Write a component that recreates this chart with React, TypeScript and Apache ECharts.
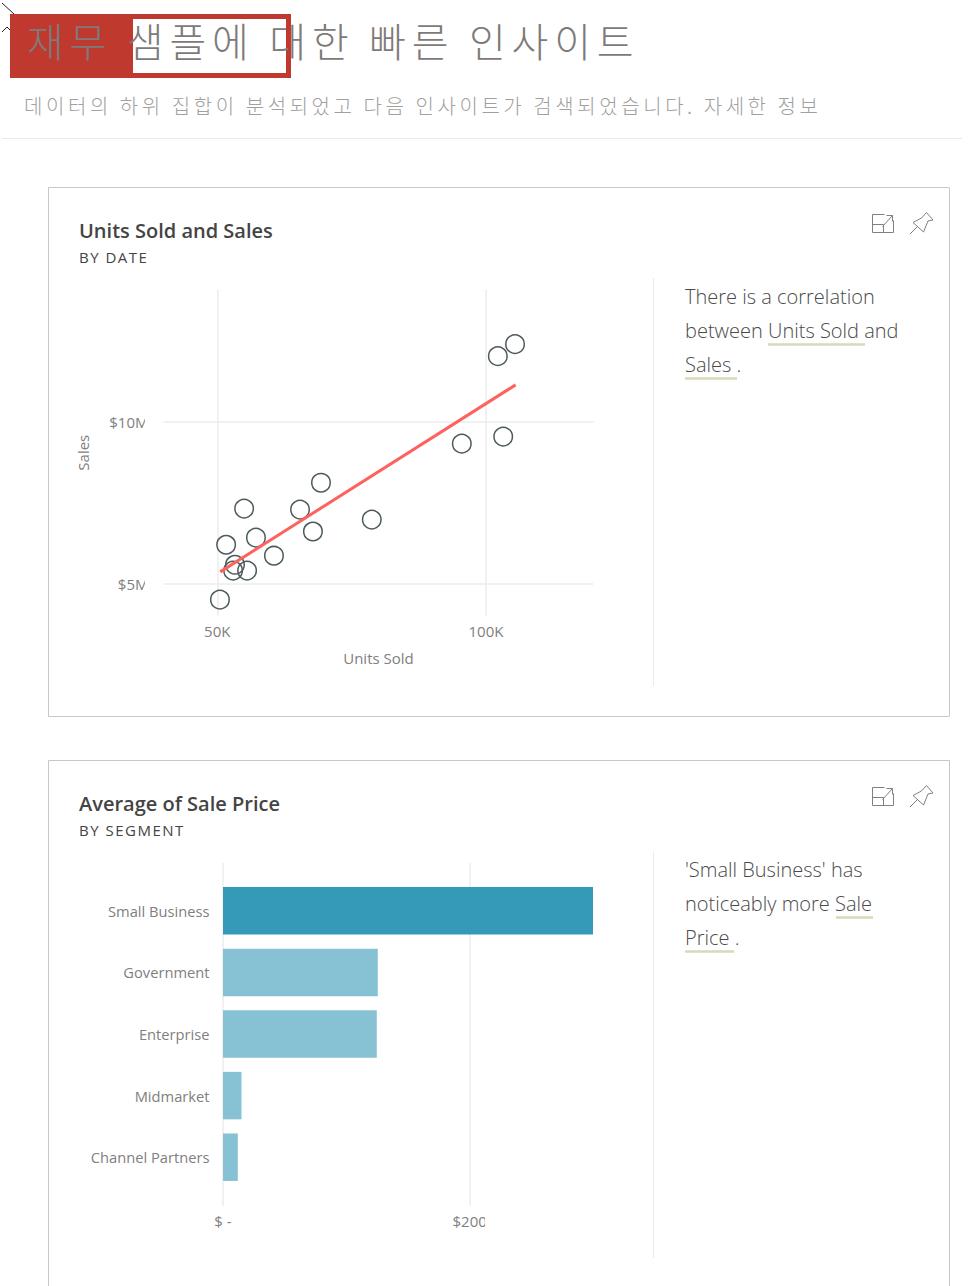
import React, { useEffect, useRef } from "react";
import * as echarts from "echarts";

const unitsSold = [105.4, 102.2, 103.2, 95.5, 78.75, 69.3, 65.4, 67.8, 60.55, 57.2, 55.0, 51.65, 53.3, 52.95, 55.55, 50.5];
const salesM = [12.41, 12.04, 9.55, 9.33, 6.98, 8.12, 7.29, 6.61, 5.86, 6.42, 7.32, 6.2, 5.58, 5.4, 5.4, 4.5];
const trendX = [50.55, 105.5];
const trendY = [5.36, 11.15];
const segments = ["Small Business", "Government", "Enterprise", "Midmarket", "Channel Partners"];
const avgPrice = [300, 125.5, 124.7, 15, 12];
const scatterXTicks = [50, 100];
const scatterYTicks = [5, 10];
const barXTicks = [0, 200];

const FONT = "'Open Sans', 'Noto Sans', sans-serif";
const CJK = "'Noto Sans CJK KR', sans-serif";

const FOCUS_D = "M12 0H0V18H21V6M0 10H11V18M10 12L20 1M14 1H20V7";
const PIN_D = "M1 22L9 14M17.5 0.5L24 8L19 9L14.5 20L4 10.5L12.5 6Z";
echarts.graphic.registerShape("focusIcon", echarts.graphic.extendPath(FOCUS_D, {}) as any);
echarts.graphic.registerShape("pinIcon", echarts.graphic.extendPath(PIN_D, {}) as any);

const txt = (text: string, x: number, y: number, size: number, fill: string, extra: any = {}) => ({
  type: "text",
  x,
  y,
  z: 120,
  style: { text, fontSize: size, fill, fontFamily: FONT, textVerticalAlign: "middle", verticalAlign: "middle", ...extra },
});
const line = (x1: number, y1: number, x2: number, y2: number, stroke: string, lineWidth = 1) => ({
  type: "line",
  z: 50,
  shape: { x1, y1, x2, y2 },
  style: { stroke, lineWidth },
});
const rect = (x: number, y: number, width: number, height: number, fill: string, z = 100) => ({
  type: "rect",
  z,
  shape: { x, y, width, height },
  style: { fill },
});
const outline = (x: number, y: number, width: number, height: number) => ({
  type: "rect",
  z: 1,
  shape: { x, y, width, height },
  style: { fill: "none", stroke: "#c8c8c8", lineWidth: 1 },
});
const icons = (dy: number) => [
  { type: "focusIcon", x: 872.5, y: 214.5 + dy, z: 60, style: { fill: "none", stroke: "#808080", lineWidth: 1 } },
  { type: "pinIcon", x: 909, y: 212 + dy, z: 60, style: { fill: "none", stroke: "#808080", lineWidth: 1 } },
];

const TITLE_STYLE = { fontWeight: 300, fontFamily: CJK };
const axisLabelGrey = "#808080";
const gridGrey = "#ececec";
const underline = "#d9d9b8";
const SPACED: Record<string, string> = {
  "재무 샘플에 대한 빠른 인사이트": "5.8px",
  "데이터의 하위 집합이 분석되었고 다음 인사이트가 검색되었습니다. 자세한 정보": "3.57px",
  "BY DATE": "1.5px",
  "BY SEGMENT": "1.5px",
};

export default function App() {
  const ref = useRef<HTMLDivElement>(null);
  useEffect(() => {
    const chart = echarts.init(ref.current!, undefined, { renderer: "svg" });
    const applySpacing = () => {
      ref.current?.querySelectorAll("text").forEach((t) => {
        const s = SPACED[t.textContent || ""];
        if (s) (t as any).style.letterSpacing = s;
      });
    };
    chart.on("finished", applySpacing);
    chart.setOption({
      animation: false,
      backgroundColor: "#ffffff",
      textStyle: { fontFamily: FONT },
      grid: [
        { left: 163.5, top: 289.6, width: 430, height: 326.2 },
        { left: 223, top: 880, width: 370, height: 308 },
        { left: 223, top: 863, width: 370, height: 343 },
      ],
      xAxis: [
        {
          type: "value", gridIndex: 0, min: 40, max: 120,
          name: "Units Sold", nameLocation: "middle", nameGap: 35,
          nameTextStyle: { color: axisLabelGrey, fontSize: 15 },
          axisLine: { show: false },
          axisTick: { show: false, customValues: scatterXTicks },
          axisLabel: { customValues: scatterXTicks, color: axisLabelGrey, fontSize: 15, margin: 8, formatter: (v: number) => `${v}K` },
          splitLine: { show: true, lineStyle: { color: gridGrey, width: 1.5 } },
        },
        {
          type: "value", gridIndex: 1, min: 0, max: 300,
          axisLine: { show: false }, axisTick: { show: false }, axisLabel: { show: false }, splitLine: { show: false },
        },
        {
          type: "value", gridIndex: 2, min: 0, max: 300,
          axisLine: { show: false },
          axisTick: { show: false, customValues: barXTicks },
          axisLabel: { customValues: barXTicks, color: axisLabelGrey, fontSize: 15, margin: 7, formatter: (v: number) => (v === 0 ? "$ -" : `$${v}`) },
          splitLine: { show: true, lineStyle: { color: gridGrey, width: 1.5 } },
        },
      ],
      yAxis: [
        {
          type: "value", gridIndex: 0, min: 4, max: 14.1,
          name: "Sales", nameLocation: "middle", nameGap: 73,
          nameTextStyle: { color: axisLabelGrey, fontSize: 15 },
          axisLine: { show: false },
          axisTick: { show: false, customValues: scatterYTicks },
          axisLabel: { customValues: scatterYTicks, color: axisLabelGrey, fontSize: 15, margin: 15, formatter: (v: number) => `$${v}M` },
          splitLine: { show: true, lineStyle: { color: gridGrey, width: 1.5 } },
        },
        {
          type: "category", gridIndex: 1, data: segments, inverse: true,
          axisLine: { show: false }, axisTick: { show: false },
          axisLabel: { color: axisLabelGrey, fontSize: 14.7, margin: 13.5 },
          splitLine: { show: false },
        },
        {
          type: "value", gridIndex: 2, min: 0, max: 1,
          axisLine: { show: false }, axisTick: { show: false }, axisLabel: { show: false }, splitLine: { show: false },
        },
      ],
      series: [
        {
          type: "scatter", xAxisIndex: 0, yAxisIndex: 0, z: 3,
          data: unitsSold.map((u, i) => [u, salesM[i]]),
          symbol: "circle", symbolSize: 18.5,
          itemStyle: { color: "rgba(255,255,255,0)", borderColor: "#4c5a5c", borderWidth: 1.5, opacity: 1 },
        },
        {
          type: "line", xAxisIndex: 0, yAxisIndex: 0, z: 4,
          data: trendX.map((x, i) => [x, trendY[i]]),
          symbol: "none", lineStyle: { color: "#fd625e", width: 3 },
        },
        {
          type: "bar", xAxisIndex: 1, yAxisIndex: 1, z: 3,
          data: avgPrice, barWidth: 47.5,
          itemStyle: { color: (p: any) => (p.dataIndex === 0 ? "#3599b8" : "#87c2d4") },
        },
      ],
      graphic: [
        // page header
        line(2, 3, 14, 14, "#222222"),
        { type: "polyline", z: 50, shape: { points: [[2, 32], [7, 27], [10, 30]] }, style: { fill: "none", stroke: "#222222", lineWidth: 1 } },
        rect(10, 14, 281, 64, "#c0392f", 5),
        rect(133, 19, 153, 54, "#ffffff", 6),
        txt("재무 샘플에 대한 빠른 인사이트", 27, 40, 40, "#7f7a7a", TITLE_STYLE),
        txt("데이터의 하위 집합이 분석되었고 다음 인사이트가 검색되었습니다. 자세한 정보", 24, 105, 20, "#a0a0a0", TITLE_STYLE),
        line(2, 138.5, 962, 138.5, "#eaeaea"),
        // cards
        outline(48.5, 187.5, 901, 529),
        outline(48.5, 760.5, 901, 560),
        line(653.5, 278, 653.5, 686, gridGrey),
        line(653.5, 851, 653.5, 1258, gridGrey),
        ...icons(0),
        ...icons(573),
        txt("Units Sold and Sales", 79, 230.5, 20, "#444444", { fontWeight: 600 }),
        txt("BY DATE", 79, 256.5, 15, "#444444"),
        txt("Average of Sale Price", 79, 803.5, 20, "#444444", { fontWeight: 600 }),
        txt("BY SEGMENT", 79, 829.5, 15, "#444444"),
        // insights
        txt("There is a correlation", 685, 296, 20, "#4a4a4a", { fontWeight: 300 }),
        txt("between Units Sold and", 685, 330, 20, "#4a4a4a", { fontWeight: 300 }),
        txt("Sales .", 685, 364, 20, "#4a4a4a", { fontWeight: 300 }),
        line(768, 344.5, 865, 344.5, underline, 2.5),
        line(685, 378.5, 737, 378.5, underline, 2.5),
        txt("'Small Business' has", 685, 869, 20, "#4a4a4a", { fontWeight: 300 }),
        txt("noticeably more Sale", 685, 903, 20, "#4a4a4a", { fontWeight: 300 }),
        txt("Price .", 685, 937, 20, "#4a4a4a", { fontWeight: 300 }),
        line(836, 917.5, 873, 917.5, underline, 2.5),
        line(685, 951.5, 734, 951.5, underline, 2.5),
        // clipped axis labels
        rect(145, 410, 8, 185, "#ffffff", 100),
        rect(485, 1210, 12, 22, "#ffffff", 100),
      ],
    });
    applySpacing();
    return () => chart.dispose();
  }, []);
  return <div ref={ref} style={{ position: "absolute", left: 0, top: 0, width: 979, height: 1286 }} />;
}
